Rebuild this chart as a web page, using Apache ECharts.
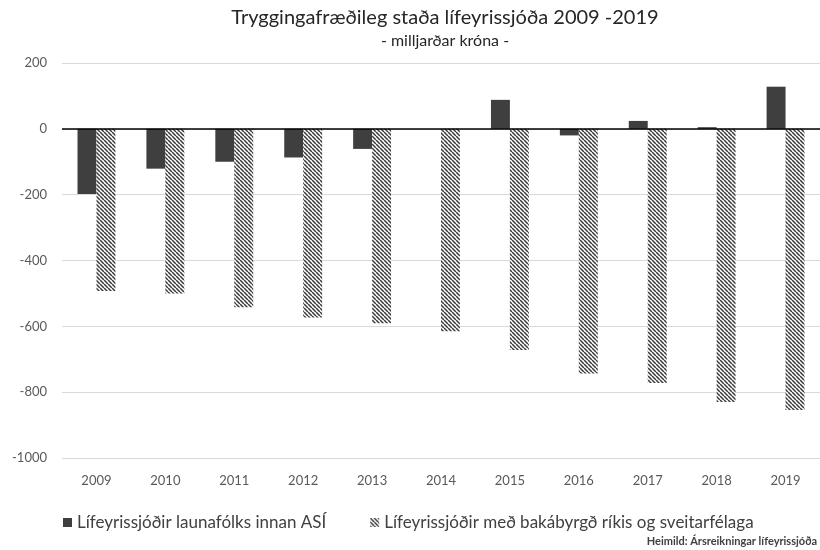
<!DOCTYPE html>
<html>
<head>
<meta charset="utf-8">
<script src="https://cdn.jsdelivr.net/npm/echarts@6/dist/echarts.min.js"></script>
<style>
  html, body { margin: 0; padding: 0; background: #fff; }
  #chart { width: 820px; height: 550px; }
</style>
</head>
<body>
<div id="chart"></div>
<script>
// ár
var years = ["2009", "2010", "2011", "2012", "2013", "2014", "2015", "2016", "2017", "2018", "2019"];
// Lífeyrissjóðir launafólks innan ASÍ
var asiValues = [-198, -121, -100, -87, -61, 0, 88, -20, 24, 5, 128];
// Lífeyrissjóðir með bakábyrgð ríkis og sveitarfélaga
var rikisValues = [-493, -500, -542, -573, -591, -615, -672, -743, -772, -830, -854];
var seriesNames = ["Lífeyrissjóðir launafólks innan ASÍ", "Lífeyrissjóðir með bakábyrgð ríkis og sveitarfélaga"];

// skástrikað mynstur
function makeHatch() {
  var s = 4;
  var c = document.createElement("canvas");
  c.width = s; c.height = s;
  var ctx = c.getContext("2d");
  ctx.fillStyle = "#ffffff";
  ctx.fillRect(0, 0, s, s);
  ctx.strokeStyle = "#3a3a3a";
  ctx.lineWidth = 1.5;
  for (var k = -1; k <= 1; k++) {
    ctx.beginPath();
    ctx.moveTo(k * s, 0);
    ctx.lineTo(k * s + s, s);
    ctx.stroke();
  }
  return c;
}

var font = "Lato, 'Open Sans', sans-serif";
var chart = echarts.init(document.getElementById("chart"));
var option = {
  animation: false,
  backgroundColor: "#fff",
  legend: {
    left: 58,
    top: 509,
    itemWidth: 9,
    itemHeight: 9,
    itemGap: 44,
    icon: "rect",
    textStyle: { fontFamily: font, fontSize: 17, color: "#404040" },
    data: seriesNames
  },
  grid: { left: 62, right: -2, top: 63, bottom: 92 },
  xAxis: {
    type: "category",
    data: years,
    axisLine: { show: false, onZero: false },
    axisTick: { show: false },
    axisLabel: { margin: 16, fontFamily: font, fontSize: 13, color: "#595959" }
  },
  yAxis: {
    type: "value",
    min: -1000,
    max: 200,
    interval: 200,
    axisLine: { show: false },
    axisTick: { show: false },
    axisLabel: {
      margin: 15, fontFamily: font, fontSize: 13, color: "#595959",
      formatter: function (v) { return String(v); }
    },
    splitLine: { lineStyle: { color: "#d9d9d9", width: 1 } }
  },
  series: [
    {
      name: seriesNames[0],
      type: "bar",
      data: asiValues,
      barGap: "0%",
      barCategoryGap: "45%",
      itemStyle: { color: "#3f3f3f" },
      markLine: {
        silent: true,
        symbol: "none",
        label: { show: false },
        lineStyle: { color: "#000", type: "solid", width: 1.5 },
        data: [{ yAxis: 0 }]
      }
    },
    {
      name: seriesNames[1],
      type: "bar",
      data: rikisValues,
      itemStyle: { color: { image: makeHatch(), repeat: "repeat" } }
    }
  ],
  graphic: [
    {
      type: "text",
      x: 445,
      y: 8,
      style: {
        text: "Tryggingafræðileg staða lífeyrissjóða 2009 -2019",
        align: "center",
        fontFamily: font,
        fontSize: 20,
        fill: "#262626"
      }
    },
    {
      type: "text",
      x: 445,
      y: 33,
      style: {
        text: "- milljarðar króna -",
        align: "center",
        fontFamily: font,
        fontSize: 16,
        fill: "#262626"
      }
    },
    {
      type: "text",
      right: 3,
      top: 536,
      style: {
        text: "Heimild: Ársreikningar lífeyrissjóða",
        fontFamily: font,
        fontSize: 11,
        fontWeight: "bold",
        fill: "#404040"
      }
    }
  ]
};
chart.setOption(option);
</script>
</body>
</html>
